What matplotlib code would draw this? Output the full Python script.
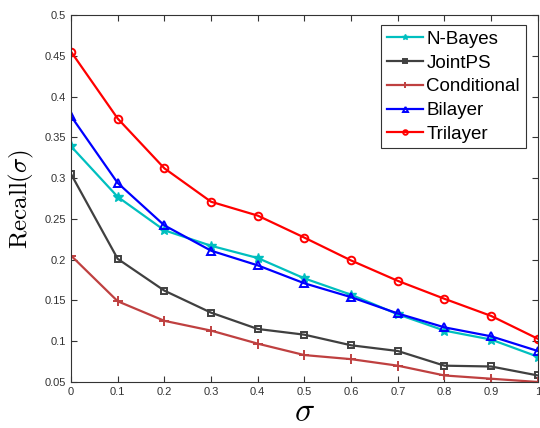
import matplotlib
matplotlib.use("Agg")
import matplotlib.pyplot as plt

# valeurs
sigma = [0, 0.1, 0.2, 0.3, 0.4, 0.5, 0.6, 0.7, 0.8, 0.9, 1.0]
n_bayes = [0.339, 0.277, 0.236, 0.217, 0.202, 0.177, 0.157, 0.133, 0.113, 0.102, 0.081]
joint_ps = [0.305, 0.201, 0.162, 0.135, 0.115, 0.108, 0.095, 0.088, 0.070, 0.069, 0.058]
conditional = [0.205, 0.149, 0.125, 0.113, 0.097, 0.083, 0.078, 0.070, 0.058, 0.054, 0.050]
bilayer = [0.376, 0.294, 0.242, 0.211, 0.193, 0.171, 0.154, 0.134, 0.117, 0.106, 0.088]
trilayer = [0.455, 0.373, 0.312, 0.271, 0.254, 0.227, 0.199, 0.174, 0.152, 0.131, 0.103]

x_ticks = [0, 0.1, 0.2, 0.3, 0.4, 0.5, 0.6, 0.7, 0.8, 0.9, 1]
x_tick_labels = ['0', '0.1', '0.2', '0.3', '0.4', '0.5', '0.6', '0.7', '0.8', '0.9', '1']
y_ticks = [0.05, 0.1, 0.15, 0.2, 0.25, 0.3, 0.35, 0.4, 0.45, 0.5]
y_tick_labels = ['0.05', '0.1', '0.15', '0.2', '0.25', '0.3', '0.35', '0.4', '0.45', '0.5']

plt.rcParams['font.family'] = ['Liberation Sans', 'DejaVu Sans']
plt.rcParams['mathtext.fontset'] = 'cm'

fig = plt.figure(figsize=(5.4, 4.28), dpi=100)
ax = fig.add_axes([0.1315, 0.1075, 0.8645, 0.8575])

ax.plot(sigma, n_bayes, color='#00BFBF', marker='*', markersize=7, lw=1.6, label='N-Bayes')
ax.plot(sigma, joint_ps, color='#404040', marker='s', markersize=4.5, mfc='none', mew=1.4, lw=1.6, label='JointPS')
ax.plot(sigma, conditional, color='#BF4040', marker='+', markersize=7, mew=1.4, lw=1.6, label='Conditional')
ax.plot(sigma, bilayer, color='#0000FF', marker='^', markersize=6, mfc='none', mew=1.4, lw=1.6, label='Bilayer')
ax.plot(sigma, trilayer, color='#FF0000', marker='o', markersize=5.5, mfc='none', mew=1.4, lw=1.6, label='Trilayer')

ax.set_xlim(0, 1)
ax.set_ylim(0.05, 0.5)
ax.set_xticks(x_ticks)
ax.set_xticklabels(x_tick_labels)
ax.set_yticks(y_ticks)
ax.set_yticklabels(y_tick_labels)
ax.tick_params(direction='in', top=True, right=True, labelsize=8, colors='#333333', length=4)
for s in ax.spines.values():
    s.set_color('#333333')

ax.set_xlabel(r'$\sigma$', fontsize=24, labelpad=0)
ax.set_ylabel(r'$\mathrm{Recall}(\sigma)$', fontsize=18, labelpad=6)

leg = ax.legend(loc='upper right', fontsize=13.5, fancybox=False, framealpha=1,
                edgecolor='#333333', handlelength=1.9, handletextpad=0.2,
                borderpad=0.3, labelspacing=0.35, borderaxespad=0,
                bbox_to_anchor=(0.974, 0.972), markerscale=0.6)
leg.get_frame().set_linewidth(0.8)

fig.savefig('out.png', dpi=100)
